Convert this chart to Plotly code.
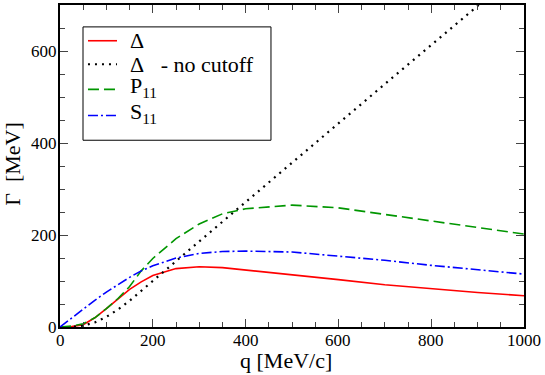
import plotly.graph_objects as go

# momentum grid and widths
q = [0, 25, 50, 75, 100, 125, 150, 175, 200, 250, 300, 350, 400, 500, 600, 700, 800, 900, 1000]
gamma_delta = [0, 1, 5, 20, 40, 60, 82, 98, 112, 127, 131, 129, 124, 113, 103, 92, 83, 75, 68]
gamma_nocut = [0, 0, 3, 10, 22, 38, 57, 79, 100, 143, 186, 229, 272, 358, 443, 528, 613, 698, 783]
gamma_p11 = [0, 2, 7, 20, 40, 62, 88, 122, 149, 192, 224, 246, 257, 265, 259, 245, 231, 217, 202]
gamma_s11 = [0, 20, 40, 58, 76, 92, 108, 122, 133, 150, 160, 164, 165, 163, 154, 145, 134, 125, 115]

x_ticks = [0, 200, 400, 600, 800, 1000]
y_ticks = [0, 200, 400, 600]

names = ["\u0394", "\u0394\u00a0\u00a0\u00a0- no cutoff", "P<sub>11</sub>", "S<sub>11</sub>"]
colors = ["#ff0000", "#000000", "#009600", "#0000ff"]
dashes = ["solid", "2px,5px", "11px,5px", "10px,3px,2px,3px"]
widths = [1.6, 2.2, 1.6, 1.6]
series = [gamma_delta, gamma_nocut, gamma_p11, gamma_s11]

serif = "Liberation Serif"
black = "#000000"

fig = go.Figure()
for name, ys, c, d, w in zip(names, series, colors, dashes, widths):
    fig.add_trace(go.Scatter(x=q, y=ys, mode="lines", name=name,
                             line=dict(color=c, width=w, dash=d), showlegend=False))

axis_common = dict(
    showgrid=False, zeroline=False, showline=True, linecolor=black, linewidth=1.5,
    mirror="ticks", ticks="inside", ticklen=8, tickwidth=1, tickcolor="#444444",
    showticklabels=False,
    minor=dict(ticks="inside", ticklen=5, tickwidth=1, tickcolor="#444444", dtick=50),
)
fig.update_xaxes(range=[0, 1000], tickvals=x_ticks, **axis_common)
fig.update_yaxes(range=[0, 700], tickvals=y_ticks, **axis_common)

# tick labels
for v in x_ticks:
    fig.add_annotation(x=v, xref="x", y=0, yref="paper", text=str(v), showarrow=False,
                       xanchor="center", yanchor="middle", yshift=-13,
                       font=dict(family=serif, size=17))
for v in y_ticks:
    fig.add_annotation(x=0, xref="paper", y=v, yref="y", text=str(v), showarrow=False,
                       xanchor="right", yanchor="middle", xshift=-1,
                       font=dict(family=serif, size=17))

# axis titles
fig.add_annotation(x=0.487, xref="paper", y=0, yref="paper", text="q [MeV/c]",
                   showarrow=False, xanchor="center", yanchor="middle", yshift=-33,
                   font=dict(family=serif, size=22))
fig.add_annotation(x=-0.104, xref="paper", y=0.506, yref="paper", text="\u0393\u00a0\u00a0[MeV]",
                   showarrow=False, textangle=-90, xanchor="center", yanchor="middle",
                   font=dict(family=serif, size=22))

# legend box
fig.add_shape(type="rect", xref="paper", yref="paper", x0=0.0496, x1=0.4547, y0=0.580, y1=0.932,
              line=dict(color=black, width=1), fillcolor="#ffffff", layer="below")
row_y = [0.889, 0.816, 0.738, 0.657]
for name, c, d, w, ry in zip(names, colors, dashes, widths, row_y):
    fig.add_shape(type="line", xref="paper", yref="paper", x0=0.0603, x1=0.1228, y0=ry, y1=ry,
                  line=dict(color=c, width=w, dash=d))
    sub = "<sub>" in name
    fig.add_annotation(x=0.147, xref="paper", y=ry, yref="paper", text=name, showarrow=False,
                       xanchor="left", yanchor="middle", yshift=2 if sub else 0,
                       font=dict(family=serif, size=22))

fig.update_layout(
    width=545, height=375,
    margin=dict(l=60, r=21, t=3, b=48),
    paper_bgcolor="#ffffff", plot_bgcolor="#ffffff",
    font=dict(family=serif, color=black),
    showlegend=False,
)

fig.write_html("out.html", config={"displayModeBar": False},
               post_script="document.body.style.margin='0px';")
